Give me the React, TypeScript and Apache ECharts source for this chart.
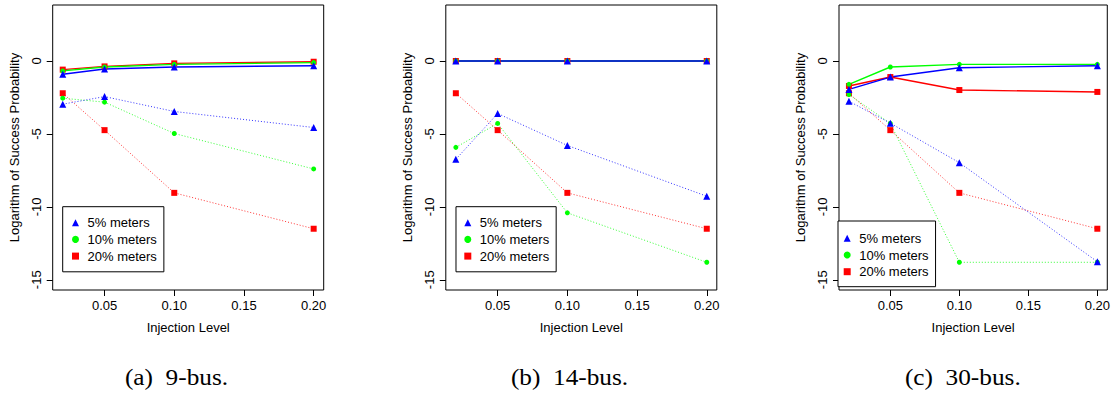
import React, { useEffect, useRef } from "react";
import * as echarts from "echarts";

// Injection levels (x values)
const injection = [0.02, 0.05, 0.1, 0.2];
const xTicks = [0.05, 0.1, 0.15, 0.2];
const yTicks = [-15, -10, -5, 0];
const seriesNames = ["5% meters", "10% meters", "20% meters"];
const captions = ["(a)  9-bus.", "(b)  14-bus.", "(c)  30-bus."];

// (a) 9-bus
const a5Solid = [-0.91, -0.55, -0.41, -0.32];
const a10Solid = [-0.68, -0.41, -0.23, -0.11];
const a20Solid = [-0.59, -0.37, -0.16, -0.05];
const a5Dot = [-2.96, -2.44, -3.46, -4.56];
const a10Dot = [-2.55, -2.82, -4.97, -7.4];
const a20Dot = [-2.21, -4.74, -9.04, -11.5];

// (b) 14-bus
const b5Solid = [0, 0, 0, 0];
const b10Solid = [0, 0, 0, 0];
const b20Solid = [0, 0, 0, 0];
const b5Dot = [-6.74, -3.6, -5.79, -9.27];
const b10Dot = [-5.92, -4.28, -10.41, -13.8];
const b20Dot = [-2.21, -4.74, -9.04, -11.5];

// (c) 30-bus
const c5Solid = [-1.95, -1.1, -0.46, -0.32];
const c10Solid = [-1.6, -0.41, -0.23, -0.23];
const c20Solid = [-1.71, -1.1, -1.99, -2.12];
const c5Dot = [-2.76, -4.26, -6.97, -13.76];
const c10Dot = [-2.3, -4.28, -13.8, -13.8];
const c20Dot = [-2.21, -4.74, -9.04, -11.5];

const panels = [
  { solid: [a5Solid, a10Solid, a20Solid], dot: [a5Dot, a10Dot, a20Dot] },
  { solid: [b5Solid, b10Solid, b20Solid], dot: [b5Dot, b10Dot, b20Dot] },
  { solid: [c5Solid, c10Solid, c20Solid], dot: [c5Dot, c10Dot, c20Dot] },
];

const colors = ["#0000ff", "#00ff00", "#ff0000"];
const symbols = ["triangle", "circle", "rect"];
const symbolSizes = [7, 5, 6];

const FONT = "Liberation Sans";
const SERIF = "Liberation Serif";
const gridLefts = [52.7, 445.8, 839];
const GRID_W = 271;
const GRID_TOP = 5;
const GRID_H = 285;
const captionX = [176.5, 569.5, 962.8];
const legendPos = [
  { left: 62.7, top: 206.7, padding: [9, 7, 8.7, 9.3] },
  { left: 456, top: 206.7, padding: [9, 7, 8.7, 8.3] },
  { left: 838, top: 221, padding: [10.3, 7, 8, 5.7] },
];

export default function App() {
  const ref = useRef<HTMLDivElement>(null);
  useEffect(() => {
    if (!ref.current) return;
    const chart = echarts.init(ref.current, undefined, { renderer: "svg" });

    const grid = gridLefts.map((l) => ({
      left: l,
      top: GRID_TOP,
      width: GRID_W,
      height: GRID_H,
      show: true,
      borderColor: "#000",
      borderWidth: 1,
      backgroundColor: "transparent",
      containLabel: false,
    }));

    const xAxis = gridLefts.map((_, i) => ({
      gridIndex: i,
      type: "value",
      min: 0.0128,
      max: 0.2072,
      axisLine: { show: false, onZero: false },
      splitLine: { show: false },
      axisTick: {
        show: true,
        length: 6,
        customValues: xTicks,
        lineStyle: { color: "#000", width: 1 },
      },
      axisLabel: {
        customValues: xTicks,
        formatter: (v: number) => v.toFixed(2),
        color: "#000",
        fontSize: 13,
        fontFamily: FONT,
        margin: 9,
      },
      name: "Injection Level",
      nameLocation: "middle",
      nameGap: 31,
      nameTextStyle: { color: "#000", fontSize: 13, fontFamily: FONT },
    }));

    const yAxis = gridLefts.map((_, i) => ({
      gridIndex: i,
      type: "value",
      min: -15.7,
      max: 3.84,
      axisLine: { show: false, onZero: false },
      splitLine: { show: false },
      axisTick: {
        show: true,
        length: 6,
        customValues: yTicks,
        lineStyle: { color: "#000", width: 1 },
      },
      axisLabel: {
        customValues: yTicks,
        rotate: 90,
        color: "#000",
        fontSize: 13,
        fontFamily: FONT,
        margin: 10,
      },
      name: "Logarithm of Success Probability",
      nameLocation: "middle",
      nameGap: 32,
      nameTextStyle: { color: "#000", fontSize: 13, fontFamily: FONT },
    }));

    const series: any[] = [];
    panels.forEach((p, i) => {
      // solid lines: red, green, blue order so blue sits on top
      [2, 1, 0].forEach((k) => {
        series.push({
          name: seriesNames[k],
          type: "line",
          xAxisIndex: i,
          yAxisIndex: i,
          data: injection.map((x, j) => [x, p.solid[k][j]]),
          symbol: symbols[k],
          symbolSize: symbolSizes[k],
          showSymbol: true,
          color: colors[k],
          itemStyle: { color: colors[k] },
          lineStyle: { color: colors[k], width: 1.4, type: "solid" },
          z: 3,
        });
      });
      [2, 1, 0].forEach((k) => {
        series.push({
          name: seriesNames[k],
          type: "line",
          xAxisIndex: i,
          yAxisIndex: i,
          data: injection.map((x, j) => [x, p.dot[k][j]]),
          symbol: symbols[k],
          symbolSize: symbolSizes[k],
          showSymbol: true,
          color: colors[k],
          itemStyle: { color: colors[k] },
          lineStyle: { color: colors[k], width: 1, type: [1, 2], opacity: 0.8 },
          z: 2,
        });
      });
    });

    const legend = legendPos.map((lp) => ({
      orient: "vertical",
      left: lp.left,
      top: lp.top,
      padding: lp.padding,
      itemGap: 2.7,
      itemWidth: 7,
      itemHeight: 7,
      selectedMode: false,
      backgroundColor: "#fff",
      borderColor: "#000",
      borderWidth: 1,
      borderRadius: 0,
      textStyle: {
        color: "#000",
        fontSize: 13,
        fontFamily: FONT,
        lineHeight: 14,
        padding: [0, 0, 0, 3.5],
      },
      data: seriesNames.map((n, k) => ({ name: n, icon: symbols[k] })),
      z: 10,
    }));

    const graphic = captions.map((t, i) => ({
      type: "text",
      x: captionX[i],
      y: 377,
      scaleX: 1.1,
      style: {
        text: t,
        fontSize: 23,
        fontFamily: SERIF,
        fill: "#000",
        textAlign: "center",
        textVerticalAlign: "middle",
      },
    }));

    chart.setOption({
      animation: false,
      backgroundColor: "#fff",
      grid,
      xAxis,
      yAxis,
      series,
      legend,
      graphic,
    } as any);

    return () => chart.dispose();
  }, []);

  return (
    <div
      ref={ref}
      style={{ position: "absolute", left: 0, top: 0, width: 1113, height: 394 }}
    />
  );
}
